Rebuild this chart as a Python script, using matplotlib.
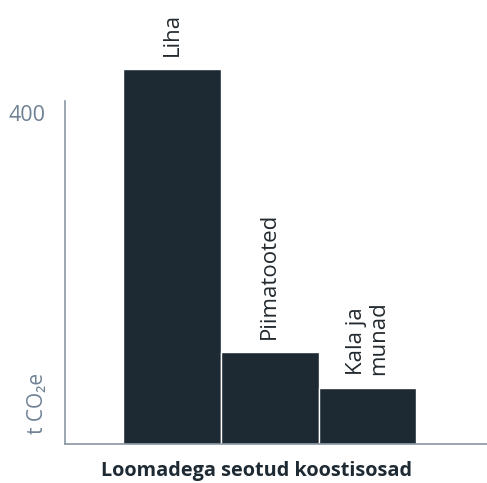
import matplotlib
matplotlib.use("Agg")
import matplotlib.pyplot as plt

categories = ["Liha", "Piimatooted", "Kala ja\nmunad"]
values = [453, 111, 68]
yticks = [400]
xlabel = "Loomadega seotud koostisosad"
ylabel = "t CO₂e"

plt.rcParams['font.family'] = ['Open Sans', 'DejaVu Sans']

W, H = 487, 483
fig = plt.figure(figsize=(W / 100, H / 100), dpi=100)
left, right, bottom_px = 65, 487, 444
scale = 331 / 400  # px per unit
ytop = 480
top_px = bottom_px - ytop * scale
ax = fig.add_axes([left / W, (H - bottom_px) / H, (right - left) / W, (bottom_px - top_px) / H])

bar_color = "#1e2a33"
x = list(range(len(categories)))
ax.bar(x, values, width=1.0, color=bar_color, edgecolor="white", linewidth=1.0)

ax.set_xlim(-1.097, 3.226)
ax.set_ylim(0, ytop)

for xi, v, c in zip(x, values, categories):
    ax.annotate(c, (xi, v), xytext=(0, 9.5), textcoords="offset points",
                rotation=90, ha="center", va="bottom", fontsize=16,
                color="#222a30", multialignment="left", linespacing=1.05)

ax.set_yticks(yticks)
ax.set_yticklabels([str(t) for t in yticks], fontsize=15.5, color="#6f8194")
ax.tick_params(axis="y", length=0, pad=14)
ax.set_xticks([])

for s in ["top", "right"]:
    ax.spines[s].set_visible(False)
ax.spines["left"].set_bounds(0, 414)
ax.spines["left"].set_color("#8a96a3")
ax.spines["bottom"].set_color("#8a96a3")
ax.spines["left"].set_linewidth(1.2)
ax.spines["bottom"].set_linewidth(1.2)

fig.text(257 / W, 1 - 471 / H, xlabel, ha="center", va="center", fontsize=14.3,
         fontweight="bold", color="#1e2a33")
fig.text(38 / W, 1 - 434 / H, ylabel, rotation=90, ha="center", va="bottom",
         fontsize=15, color="#6f8194")

fig.savefig("out.png", dpi=100)
